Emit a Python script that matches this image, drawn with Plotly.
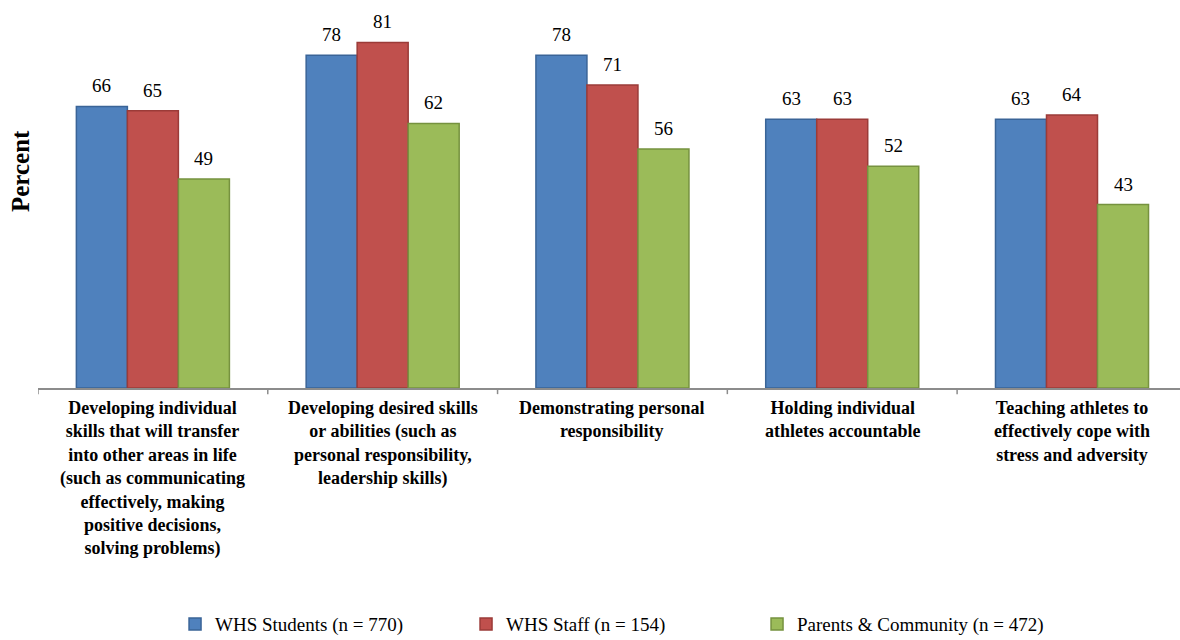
import plotly.graph_objects as go

categories = [
    "Developing individual<br>skills that will transfer<br>into other areas in life<br>(such as communicating<br>effectively, making<br>positive decisions,<br>solving problems)",
    "Developing desired skills<br>or abilities (such as<br>personal responsibility,<br>leadership skills)",
    "Demonstrating personal<br>responsibility",
    "Holding individual<br>athletes accountable",
    "Teaching athletes to<br>effectively cope with<br>stress and adversity",
]
series_names = [
    "WHS Students (n = 770)",
    "WHS Staff (n = 154)",
    "Parents & Community (n = 472)",
]
students = [66, 78, 78, 63, 63]
staff = [65, 81, 71, 63, 64]
parents = [49, 62, 56, 52, 43]

fills = ["#4F81BD", "#C0504D", "#9BBB59"]
edges = ["#3A6497", "#9B3B38", "#76923F"]
serif = "Liberation Serif"
axis_grey = "#8C8C8C"

fig = go.Figure()
for name, vals, fc, ec in zip(series_names, [students, staff, parents], fills, edges):
    fig.add_trace(go.Bar(
        x=list(range(len(categories))), y=vals, name=name,
        marker=dict(color=fc, line=dict(color=ec, width=1.5)),
    ))

# value labels above each bar
bar_w = (1 - 0.334) / 3
for k, vals in enumerate([students, staff, parents]):
    for i, v in enumerate(vals):
        fig.add_annotation(
            x=i + (k - 1) * bar_w, y=v, xref="x", yref="y",
            text=str(v), showarrow=False, yanchor="bottom", yshift=8,
            font=dict(family=serif, size=19, color="black"),
        )

# category labels below the axis
for i, label in enumerate(categories):
    fig.add_annotation(
        x=i, y=0, xref="x", yref="y", text=f"<b>{label}</b>",
        showarrow=False, xanchor="center", yanchor="top", yshift=-8,
        align="center",
        font=dict(family=serif, size=18, color="black"),
    )

fig.add_annotation(
    x=0.0, xref="paper", xanchor="center", xshift=-18,
    y=0.565, yref="paper", yanchor="middle",
    text="<b>Percent</b>", textangle=-90, showarrow=False,
    font=dict(family=serif, size=25, color="black"),
)

fig.update_layout(
    width=1180, height=640,
    margin=dict(l=38, r=0, t=4, b=252, autoexpand=False),
    plot_bgcolor="white", paper_bgcolor="white",
    barmode="group", bargap=0.334, bargroupgap=0,
    showlegend=True,
    legend=dict(
        orientation="h", x=0.12, xanchor="left", y=-0.615, yanchor="middle",
        yref="paper", entrywidth=246, entrywidthmode="pixels",
        font=dict(family=serif, size=19, color="black"),
        itemwidth=30,
    ),
    xaxis=dict(
        range=[-0.5, 4.47],
        showline=True, linecolor=axis_grey, linewidth=1.5,
        ticks="", showgrid=False, zeroline=False, showticklabels=False,
    ),
    yaxis=dict(
        range=[0, 90], showline=False, showgrid=False, zeroline=False,
        showticklabels=False, ticks="",
    ),
)

# boundary tick marks below the axis line
for b in [-0.5, 0.5, 1.5, 2.5, 3.5]:
    fig.add_shape(type="line", xref="x", yref="paper", x0=b, x1=b, y0=0, y1=-0.016,
                  line=dict(color=axis_grey, width=1.5))

fig.write_html("out.html")
